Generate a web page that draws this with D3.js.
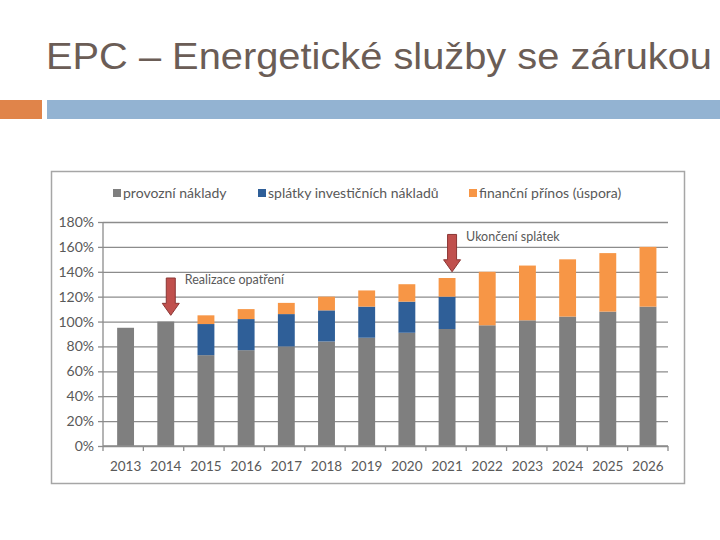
<!DOCTYPE html>
<html lang="cs">
<head>
<meta charset="utf-8">
<title>EPC</title>
<style>
  body { margin: 0; background: #fff; }
  svg text { font-family: Lato, "Liberation Sans", sans-serif; }
</style>
</head>
<body>
<script src="https://d3js.org/d3.v7.min.js"></script>
<script>

    var years = ["2013","2014","2015","2016","2017","2018","2019","2020","2021","2022","2023","2024","2025","2026"];
    var provozni = [95,100,73,77,80,84,87,91,94,97,101,104,108,112];
    var splatky  = [0,0,25,25,26,25,25,25,26,0,0,0,0,0];
    var prinos   = [0,0,7,8,9,11,13,14,15,43,44,46,47,48];
    var yTicks = [0,20,40,60,80,100,120,140,160,180];
    var seriesNames = ["provozní náklady","splátky investičních nákladů","finanční přínos (úspora)"];
    var colors = ["#7f7f7f","#2f5f98","#f79646"];

    var W = 720, H = 540;
    var svg = d3.select("body").append("svg")
        .attr("width", W)
        .attr("height", H);

    // slide title + decoration
    svg.append("text")
        .attr("x", 46).attr("y", 69)
        .style("font-family", "'Liberation Sans', Arial, sans-serif")
        .style("font-size", "36px")
        .attr("fill", "#6b5d56")
        .attr("textLength", 666)
        .attr("lengthAdjust", "spacingAndGlyphs")
        .text("EPC – Energetické služby se zárukou");
    svg.append("rect").attr("x", 0).attr("y", 100).attr("width", 42).attr("height", 19).attr("fill", "#e0844a");
    svg.append("rect").attr("x", 47).attr("y", 100).attr("width", W - 47).attr("height", 19).attr("fill", "#93b3d2");

    // chart frame
    svg.append("rect")
        .attr("x", 51.5).attr("y", 171.5)
        .attr("width", 633).attr("height", 312)
        .attr("fill", "#fff")
        .attr("stroke", "#a6a6a6")
        .attr("stroke-width", 1.5);

    var margin = {left: 103, right: 668, top: 222, bottom: 446};

    var x = d3.scaleBand()
        .domain(years)
        .range([margin.left, margin.right])
        .paddingInner(0.58)
        .paddingOuter(0.32)
        .align(0.55);

    var y = d3.scaleLinear()
        .domain([0, 180])
        .range([margin.bottom, margin.top]);

    // gridlines + y axis
    var yAxis = d3.axisLeft(y)
        .tickValues(yTicks)
        .tickFormat(function(d){ return d + "%"; })
        .tickSize(-(margin.right - margin.left))
        .tickPadding(9);
    var yg = svg.append("g")
        .attr("transform", "translate(" + margin.left + ",0)")
        .call(yAxis);
    yg.select(".domain").remove();
    yg.selectAll(".tick line").attr("stroke", "#8c8c8c").attr("stroke-width", 1.3);
    yg.selectAll(".tick").append("line")
        .attr("x1", -5).attr("x2", 0)
        .attr("stroke", "#8c8c8c").attr("stroke-width", 1.3);
    yg.selectAll(".tick text")
        .style("font-size", "14px")
        .attr("fill", "#595959");
    svg.append("line")
        .attr("x1", margin.left).attr("x2", margin.left)
        .attr("y1", margin.top).attr("y2", margin.bottom)
        .attr("stroke", "#8c8c8c").attr("stroke-width", 1.3);

    // stacked bars
    var rows = years.map(function(yr, i){
        return {year: yr, a: provozni[i], b: splatky[i], c: prinos[i]};
    });
    var stack = d3.stack().keys(["a","b","c"]);
    var layers = stack(rows);

    svg.append("g").selectAll("g")
        .data(layers)
        .enter().append("g")
        .attr("fill", function(d, i){ return colors[i]; })
        .selectAll("rect")
        .data(function(d){ return d; })
        .enter().append("rect")
        .attr("x", function(d){ return x(d.data.year); })
        .attr("y", function(d){ return y(d[1]); })
        .attr("width", x.bandwidth())
        .attr("height", function(d){ return y(d[0]) - y(d[1]); });

    // x axis
    var step = (margin.right - margin.left) / years.length;
    var xg = svg.append("g")
        .attr("transform", "translate(0," + margin.bottom + ")");
    xg.append("line")
        .attr("x1", margin.left).attr("x2", margin.right)
        .attr("stroke", "#8c8c8c").attr("stroke-width", 1.3);
    xg.selectAll("line.tk")
        .data(d3.range(years.length + 1))
        .enter().append("line")
        .attr("class", "tk")
        .attr("x1", function(i){ return margin.left + i * step; })
        .attr("x2", function(i){ return margin.left + i * step; })
        .attr("y1", 0).attr("y2", 5)
        .attr("stroke", "#8c8c8c").attr("stroke-width", 1.3);
    xg.selectAll("text")
        .data(years)
        .enter().append("text")
        .attr("x", function(d){ return x(d) + x.bandwidth() / 2; })
        .attr("y", 25)
        .attr("text-anchor", "middle")
        .style("font-size", "13.5px")
        .attr("fill", "#595959")
        .text(function(d){ return d; });

    // legend
    var legendX = [113, 258, 469];
    var lg = svg.append("g").selectAll("g")
        .data(seriesNames)
        .enter().append("g")
        .attr("transform", function(d, i){ return "translate(" + legendX[i] + ",193)"; });
    lg.append("rect")
        .attr("x", 0).attr("y", -4)
        .attr("width", 8).attr("height", 8)
        .attr("fill", function(d, i){ return colors[i]; });
    lg.append("text")
        .attr("x", 10).attr("y", 5)
        .style("font-size", "14px")
        .attr("fill", "#595959")
        .text(function(d){ return d; });

    // arrows with notes
    var notes = [
        {year: "2014", top: 135, bottom: 105, label: "Realizace opatření", dy: 6},
        {year: "2021", top: 170, bottom: 140, label: "Ukončení splátek", dy: 7}
    ];
    notes.forEach(function(n){
        var cx = x(n.year) + x.bandwidth() / 2 + 5;
        var y0 = y(n.top), y1 = y(n.bottom), hh = 12;
        var path = d3.path();
        path.moveTo(cx - 4.5, y0);
        path.lineTo(cx + 4.5, y0);
        path.lineTo(cx + 4.5, y1 - hh);
        path.lineTo(cx + 8.5, y1 - hh);
        path.lineTo(cx, y1);
        path.lineTo(cx - 8.5, y1 - hh);
        path.lineTo(cx - 4.5, y1 - hh);
        path.closePath();
        svg.append("path")
            .attr("d", path.toString())
            .attr("fill", "#c0504d")
            .attr("stroke", "#8b3634")
            .attr("stroke-width", 1);
        svg.append("text")
            .attr("x", cx + 14)
            .attr("y", y0 + n.dy)
            .style("font-size", "12.5px")
            .attr("fill", "#595959")
            .text(n.label);
    });

</script>
</body>
</html>
